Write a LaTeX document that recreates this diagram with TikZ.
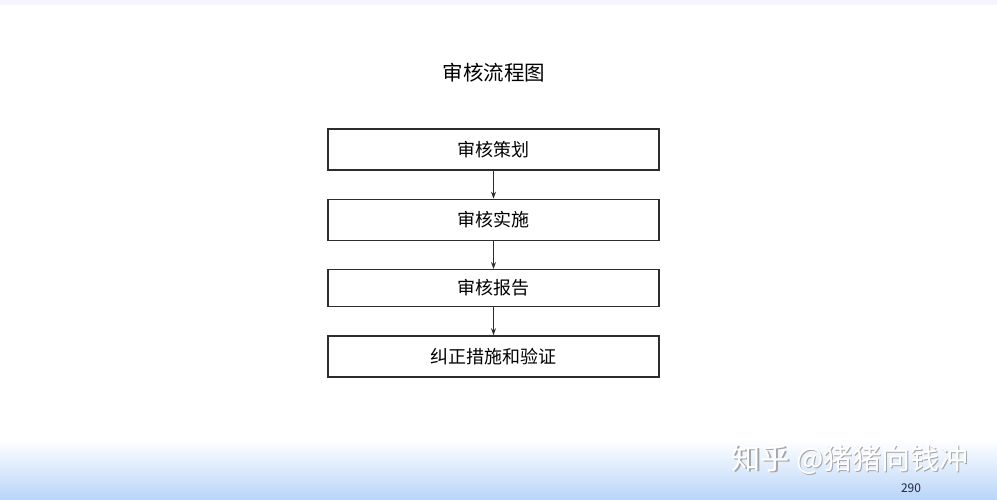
\documentclass[tikz,border=0pt]{standalone}
\usepackage{fontspec}
\newfontfamily\cjk{Noto Sans CJK SC}
\usetikzlibrary{positioning, arrows.meta}

\definecolor{bandblue}{RGB}{184,212,248}
\definecolor{linegray}{RGB}{45,45,45}
\definecolor{pagenum}{RGB}{30,40,70}

\begin{document}
\begin{tikzpicture}[x = 1pt, y = -1pt]
			% Slide size and background
			\useasboundingbox (0, 0) rectangle (997, 500);
			\fill[white] (0, 0) rectangle (997, 500);
			\fill[blue!4] (0, 0) rectangle (997, 5);
			\shade[top color = white, bottom color = bandblue] (0, 440) rectangle (997, 500);

			% Box and arrow styles
			\tikzset{stepbox/.style = {draw = linegray, line width = 1.3pt, minimum width = 331pt, minimum height = 41pt, inner sep = 0pt, font = \cjk\fontsize{18}{18}\selectfont}}
			\tikzset{flow arrow/.style = {-{Stealth[length = 7pt, width = 5pt]}, draw = linegray, line width = 1.3pt}}

			% Title
			\node[font = \cjk\fontsize{20.5}{20.5}\selectfont] (title) at (494, 73) {审核流程图};

			% The four steps
			\node[stepbox] (plan) at (493.5, 149.5) {审核策划};
			\node[stepbox, below = 28pt of plan] (act) {审核实施};
			\node[stepbox, minimum height = 37pt, below = 28pt of act] (report) {审核报告};
			\node[stepbox, below = 28pt of report] (fix) {纠正措施和验证};

			% Arrows between the steps
			\draw[flow arrow] (plan) -- (act);
			\draw[flow arrow] (act) -- (report);
			\draw[flow arrow] (report) -- (fix);

			% Watermark and page number
			\node[gray!70, font = \cjk\fontsize{29}{29}\selectfont] (markshadow) at (851.5, 461) {知乎 @猪猪向钱冲};
			\node[white, font = \cjk\fontsize{29}{29}\selectfont] (mark) at (850, 459.5) {知乎 @猪猪向钱冲};
			\node[pagenum, font = \cjk\fontsize{12}{12}\selectfont] (page) at (911, 488) {290};

		\end{tikzpicture}
\end{document}
